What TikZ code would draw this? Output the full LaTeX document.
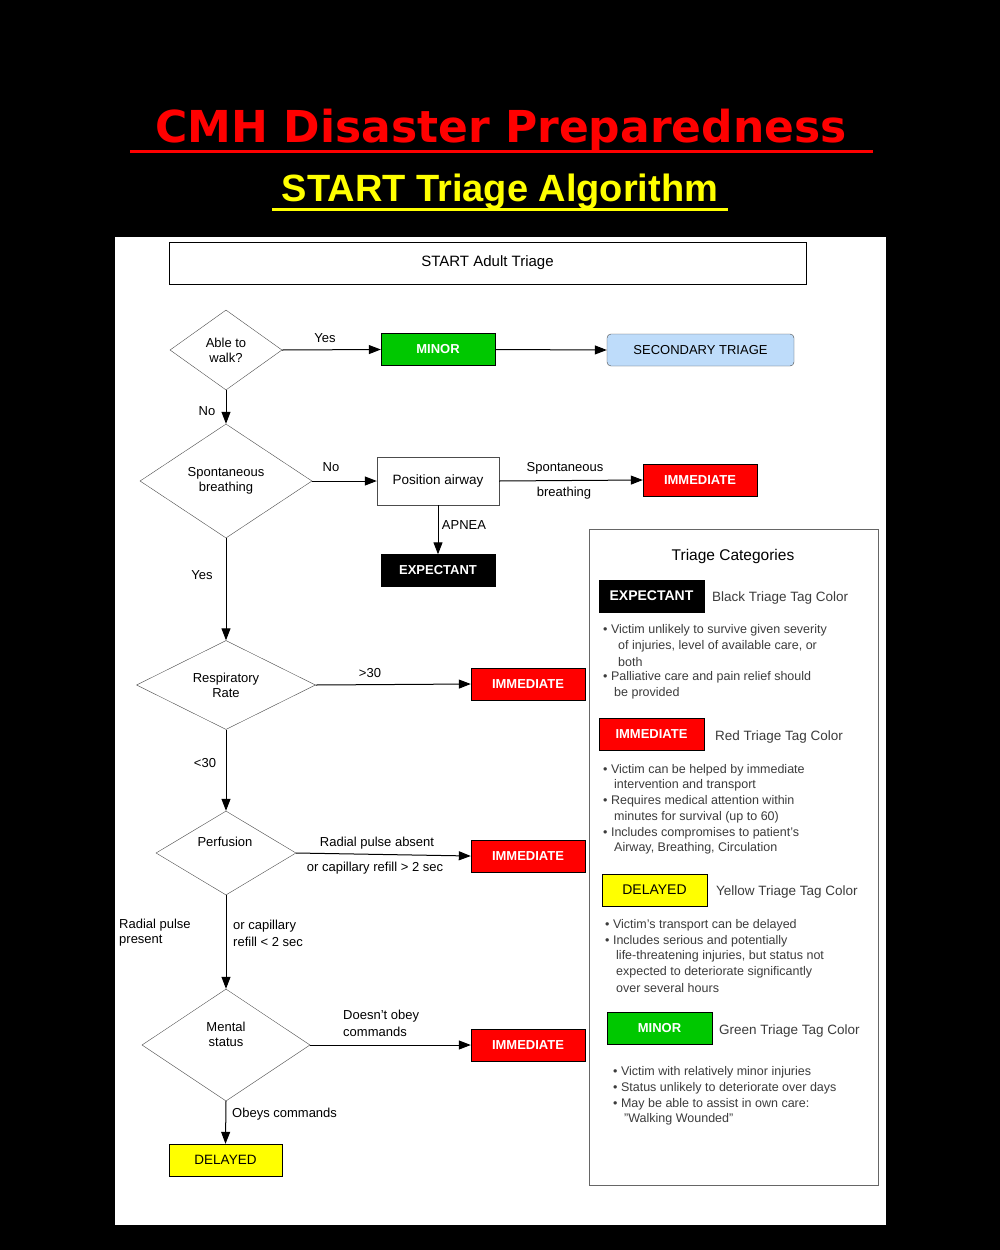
\documentclass[tikz,border=0pt]{standalone}
\usepackage{fontspec}
\setmainfont{Liberation Sans}
\newfontfamily\titlefont{DejaVu Sans}
\usetikzlibrary{arrows.meta,shapes.geometric}
\definecolor{tgreen}{RGB}{0,200,0}
\definecolor{tred}{RGB}{255,0,0}
\definecolor{tyellow}{RGB}{255,255,0}
\definecolor{tblue}{RGB}{190,220,250}
\definecolor{txt}{RGB}{60,60,60}
\tikzset{
  arr/.style={draw=black,line width=1pt,-{Triangle[length=12pt,width=9pt]}},
  tag/.style={draw=black,minimum height=32pt,font=\fontsize{13}{15}\selectfont\bfseries},
  dia/.style={draw=black!70,diamond,aspect=1.4,inner sep=0pt},
  lbl/.style={font=\fontsize{13}{15}\selectfont,inner sep=0pt},
  bl/.style={font=\fontsize{12.5}{15}\selectfont,text=txt,anchor=west,inner sep=0pt},
  gl/.style={font=\fontsize{13.5}{15}\selectfont,text=txt,anchor=west,inner sep=0pt}
}
\begin{document}
\begin{tikzpicture}[x=1pt,y=-1pt]
\fill[black] (0,0) rectangle (1000,1250);
\useasboundingbox (0,0) rectangle (1000,1250);
\fill[white] (115,237) rectangle (886,1225);
% titles
\node[text=tred,font=\titlefont\fontsize{44}{50}\selectfont\bfseries,inner sep=0pt] (t1) at (501,130) {CMH Disaster Preparedness};
\draw[tred,line width=3pt] (130,151) -- (873,151);
\node[text=tyellow,font=\fontsize{38}{44}\selectfont\bfseries,inner sep=0pt] (t2) at (500,192) {START Triage Algorithm};
\draw[tyellow,line width=3pt] (272,209) -- (728,209);
% header
\node[draw=black,minimum width=637pt,minimum height=42pt,lbl,font=\fontsize{15}{17}\selectfont] (hdr) at (487.5,263) {START Adult Triage};
% diamonds
\node[dia,minimum width=112pt,minimum height=80pt,align=center,lbl] (d1) at (226,350) {Able to\\walk?};
\node[dia,minimum width=172pt,minimum height=114pt,align=center,lbl] (d2) at (226,481) {Spontaneous\\breathing};
\node[dia,minimum width=179pt,minimum height=89pt,align=center,lbl] (d3) at (226,685) {Respiratory\\Rate};
\node[dia,minimum width=140pt,minimum height=84pt] (d4) at (226,853) {};
\node[lbl] (d4t) at (225,842) {Perfusion};
\node[dia,minimum width=168pt,minimum height=112pt] (d5) at (226,1045) {};
\node[lbl,align=center] (d5t) at (226,1034) {Mental\\status};
% boxes
\node[tag,fill=tgreen,text=white,minimum width=114pt] (minor) at (438,349.5) {MINOR};
\node[draw=black!70,fill=tblue,rounded corners=4pt,minimum width=187pt,minimum height=32pt,lbl] (sec) at (700.5,350) {SECONDARY TRIAGE};
\node[draw=black!70,minimum width=122pt,minimum height=48pt,lbl,font=\fontsize{13.5}{15}\selectfont] (pa) at (438,481) {Position airway};
\node[tag,fill=tred,text=white,minimum width=114pt] (im1) at (700,480) {IMMEDIATE};
\node[tag,fill=black,text=white,minimum width=114pt] (exp) at (438,570.5) {EXPECTANT};
\node[tag,fill=tred,text=white,minimum width=114pt] (im2) at (528,684) {IMMEDIATE};
\node[tag,fill=tred,text=white,minimum width=114pt] (im3) at (528,856) {IMMEDIATE};
\node[tag,fill=tred,text=white,minimum width=114pt] (im4) at (528,1045) {IMMEDIATE};
\node[tag,fill=tyellow,text=black,minimum width=113pt,font=\fontsize{13.5}{15}\selectfont] (del) at (225.5,1160) {DELAYED};
% connectors
\draw[arr] (d1.east) -- (minor.west);
\draw[arr] (minor.east) -- (sec.west);
\draw[arr] (d1.south) -- (d2.north);
\draw[arr] (d2.east) -- (pa.west);
\draw[arr] (pa.east) -- (im1.west);
\draw[arr] (pa.south) -- (exp.north);
\draw[arr] (d2.south) -- (d3.north);
\draw[arr] (d3.east) -- (im2.west);
\draw[arr] (d3.south) -- (d4.north);
\draw[arr] (d4.east) -- (im3.west);
\draw[arr] (d4.south) -- (d5.north);
\draw[arr] (d5.east) -- (im4.west);
\draw[arr] (d5.south) -- (del.north);
% labels
\node[lbl] (l1) at (325,338) {Yes};
\node[lbl] (l2) at (207,411) {No};
\node[lbl] (l3) at (331,467) {No};
\node[lbl] (l4) at (565,468) {Spontaneous};
\node[lbl] (l5) at (564,493) {breathing};
\node[lbl] (l6) at (464,525) {APNEA};
\node[lbl] (l7) at (202,575) {Yes};
\node[lbl] (l8) at (370,673) {>30};
\node[lbl] (l9) at (205,763) {<30};
\node[lbl] (l10) at (377,843) {Radial pulse absent};
\node[lbl] (l11) at (375,868) {or capillary refill > 2 sec};
\node[lbl,anchor=west] (l12) at (119,925) {Radial pulse};
\node[lbl,anchor=west] (l13) at (119,941) {present};
\node[lbl,anchor=west] (l14) at (233,926) {or capillary};
\node[lbl,anchor=west] (l15) at (233,942) {refill < 2 sec};
\node[lbl,anchor=west] (l16) at (343,1016) {Doesn't obey};
\node[lbl,anchor=west] (l17) at (343,1032) {commands};
\node[lbl,anchor=west] (l18) at (232,1114) {Obeys commands};
% categories panel
\draw[black!60] (589,529) rectangle (878,1185);
\node[lbl,font=\fontsize{15.5}{17}\selectfont] (ct) at (733,556) {Triage Categories};
\node[tag,fill=black,text=white,minimum width=105pt,font=\fontsize{14}{15}\selectfont\bfseries] (cexp) at (651.5,596) {EXPECTANT};
\node[gl] (g1) at (712,598) {Black Triage Tag Color};
\node[bl] (b1) at (603,630) {\textbullet\ Victim unlikely to survive given severity};
\node[bl] (b2) at (618,646) {of injuries, level of available care, or};
\node[bl] (b3) at (618,662) {both};
\node[bl] (b4) at (603,677) {\textbullet\ Palliative care and pain relief should};
\node[bl] (b5) at (614,693) {be provided};
\node[tag,fill=tred,text=white,minimum width=105pt] (cim) at (651.5,734.5) {IMMEDIATE};
\node[gl] (g2) at (715,737) {Red Triage Tag Color};
\node[bl] (b6) at (603,770) {\textbullet\ Victim can be helped by immediate};
\node[bl] (b7) at (614,785) {intervention and transport};
\node[bl] (b8) at (603,801) {\textbullet\ Requires medical attention within};
\node[bl] (b9) at (614,817) {minutes for survival (up to 60)};
\node[bl] (b10) at (603,833) {\textbullet\ Includes compromises to patient's};
\node[bl] (b11) at (614,848) {Airway, Breathing, Circulation};
\node[tag,fill=tyellow,text=black,minimum width=105pt,font=\fontsize{14}{15}\selectfont] (cdel) at (654.5,890) {DELAYED};
\node[gl] (g3) at (716,892) {Yellow Triage Tag Color};
\node[bl] (b12) at (605,925) {\textbullet\ Victim's transport can be delayed};
\node[bl] (b13) at (605,941) {\textbullet\ Includes serious and potentially};
\node[bl] (b14) at (616,956) {life-threatening injuries, but status not};
\node[bl] (b15) at (616,972) {expected to deteriorate significantly};
\node[bl] (b16) at (616,988) {over several hours};
\node[tag,fill=tgreen,text=white,minimum width=105pt] (cmin) at (659.5,1028) {MINOR};
\node[gl] (g4) at (719,1031) {Green Triage Tag Color};
\node[bl] (b17) at (613,1072) {\textbullet\ Victim with relatively minor injuries};
\node[bl] (b18) at (613,1088) {\textbullet\ Status unlikely to deteriorate over days};
\node[bl] (b19) at (613,1104) {\textbullet\ May be able to assist in own care:};
\node[bl] (b20) at (624,1119) {"Walking Wounded"};
\end{tikzpicture}
\end{document}
